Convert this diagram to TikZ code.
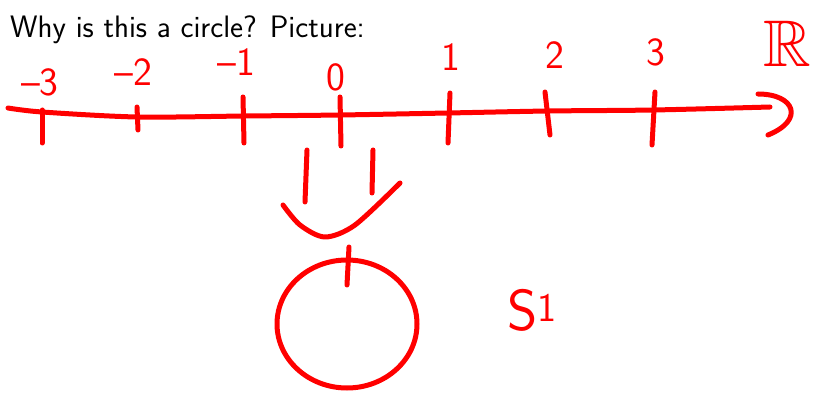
\documentclass[tikz,border=0pt]{standalone}
\usepackage{amssymb}

\begin{document}
\begin{tikzpicture}[x=1pt, y=-1pt,
    ink/.style={red, line width=5pt, line cap=round, line join=round},
    num/.style={red, inner sep=0pt, font=\fontsize{40}{44}\sffamily}]
        \useasboundingbox (0,0) rectangle (815,393);
        \node[anchor=base west, inner sep=0pt, font=\fontsize{31}{36}\sffamily] (title) at (10,38) {Why is this a circle? Picture:};

        % the real line
        \draw[ink] plot[smooth] coordinates {(8,108) (42,112) (137,117) (245,116) (340,115) (448,113) (548,111) (653,110) (770,107)};
        \draw[ink] (758,94) .. controls (795,94) and (805,120) .. (768,135);

        \draw[ink] (42,110) -- (42,143);
        \draw[ink] (137,107) -- (138,130);
        \draw[ink] (243,97) -- (244,143);
        \draw[ink] (340,97) -- (341,146);
        \draw[ink] (450,93) -- (448,143);
        \draw[ink] (545,92) -- (550,135);
        \draw[ink] (655,92) -- (652,145);

        \node[num] (m3) at (40,82) {--3};
        \node[num] (m2) at (133,72) {--2};
        \node[num] (m1) at (236,62) {--1};
        \node[num] (z) at (336,77) {0};
        \node[num] (p1) at (451,57) {1};
        \node[num] (p2) at (555,55) {2};
        \node[num] (p3) at (656,52) {3};
        \node[num, font=\fontsize{66}{70}\sffamily] (R) at (787,44) {$\mathbb{R}$};

        % wrapping it up
        \draw[ink] (307,150) -- (305,202);
        \draw[ink] (373,150) -- (372,193);
        \draw[ink] plot[smooth] coordinates {(283,205) (300,225) (325,237) (355,225) (400,183)};
        \draw[ink] (349,247) -- (347,285);
        \draw[ink] (347,324) ellipse[x radius=70, y radius=64];

        \node[num, font=\fontsize{58}{62}\sffamily] (S) at (532,310) {S\textsuperscript{1}};
    \end{tikzpicture}
\end{document}
